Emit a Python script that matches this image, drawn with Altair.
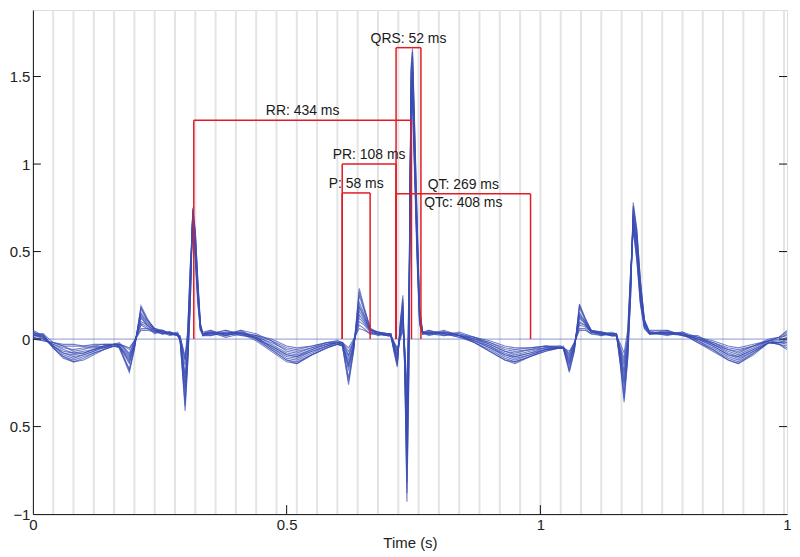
import altair as alt
import pandas as pd

# ---------------- data ----------------
# sample times (s), grouped by waveform segment
times = [
    [0.00, 0.02, 0.04, 0.06, 0.08, 0.10, 0.12, 0.14, 0.16],
    [0.17, 0.18, 0.19, 0.20, 0.213, 0.225, 0.24, 0.255, 0.27, 0.285],
    [0.29, 0.295, 0.30, 0.305, 0.31, 0.315, 0.32, 0.325, 0.33, 0.335],
    [0.35, 0.38, 0.41, 0.44, 0.47, 0.50, 0.52, 0.55, 0.58, 0.60],
    [0.61, 0.622, 0.632, 0.643, 0.653, 0.665, 0.68, 0.70],
    [0.705, 0.712, 0.718, 0.724, 0.729, 0.733, 0.737, 0.741, 0.745, 0.748, 0.752, 0.757, 0.762, 0.768],
    [0.78, 0.81, 0.84, 0.87, 0.90, 0.93, 0.95, 0.98, 1.01, 1.04],
    [1.045, 1.057, 1.067, 1.077, 1.088, 1.10, 1.12, 1.14],
    [1.15, 1.158, 1.165, 1.172, 1.178, 1.183, 1.19, 1.197, 1.205, 1.215],
    [1.25, 1.28, 1.31, 1.34, 1.37, 1.39, 1.42, 1.45, 1.47, 1.486],
]

beat_1 = [
    [0.00, -0.01, -0.02, -0.03, -0.03, -0.04, -0.03, -0.03, -0.03],
    [-0.03, -0.04, -0.05, -0.01, 0.05, 0.05, 0.04, 0.03, 0.03, 0.02],
    [0.01, -0.04, -0.10, 0.05, 0.40, 0.66, 0.45, 0.20, 0.05, 0.02],
    [0.03, 0.02, 0.04, 0.02, 0.00, -0.04, -0.05, -0.04, -0.02, -0.02],
    [-0.02, -0.05, 0.00, 0.06, 0.05, 0.03, 0.03, 0.02],
    [0.02, -0.02, -0.05, 0.00, 0.05, -0.05, -0.30, 0.30, 1.25, 1.35, 0.95, 0.45, 0.08, 0.03],
    [0.03, 0.02, 0.03, 0.01, -0.01, -0.04, -0.05, -0.05, -0.04, -0.04],
    [-0.05, -0.07, -0.02, 0.05, 0.05, 0.03, 0.02, 0.03],
    [0.02, -0.03, -0.08, 0.05, 0.40, 0.62, 0.45, 0.20, 0.06, 0.03],
    [0.03, 0.02, 0.01, -0.01, -0.04, -0.05, -0.03, -0.01, 0.01, 0.05],
]
beat_2 = [
    [0.01, 0.00, -0.03, -0.05, -0.06, -0.05, -0.05, -0.04, -0.03],
    [-0.03, -0.05, -0.08, -0.02, 0.08, 0.06, 0.04, 0.04, 0.02, 0.03],
    [0.00, -0.08, -0.15, 0.00, 0.35, 0.68, 0.50, 0.25, 0.06, 0.03],
    [0.04, 0.03, 0.02, 0.01, -0.02, -0.06, -0.07, -0.05, -0.03, -0.02],
    [-0.02, -0.09, -0.02, 0.10, 0.08, 0.04, 0.02, 0.03],
    [0.03, -0.03, -0.07, 0.02, 0.08, -0.10, -0.42, 0.20, 1.30, 1.42, 1.00, 0.50, 0.10, 0.03],
    [0.04, 0.03, 0.02, 0.00, -0.02, -0.06, -0.07, -0.06, -0.05, -0.05],
    [-0.05, -0.09, -0.03, 0.08, 0.07, 0.04, 0.03, 0.02],
    [0.02, -0.06, -0.13, 0.00, 0.38, 0.65, 0.48, 0.22, 0.07, 0.03],
    [0.04, 0.03, 0.00, -0.02, -0.06, -0.07, -0.04, -0.01, 0.00, 0.03],
]
beat_3 = [
    [0.03, 0.01, -0.03, -0.06, -0.08, -0.07, -0.06, -0.05, -0.03],
    [-0.03, -0.06, -0.10, -0.03, 0.10, 0.08, 0.05, 0.03, 0.04, 0.02],
    [0.01, -0.10, -0.20, -0.05, 0.30, 0.70, 0.52, 0.25, 0.07, 0.02],
    [0.02, 0.04, 0.03, 0.02, -0.03, -0.08, -0.09, -0.06, -0.03, -0.02],
    [-0.03, -0.12, -0.03, 0.14, 0.10, 0.04, 0.03, 0.02],
    [0.02, -0.04, -0.09, 0.04, 0.12, -0.12, -0.52, 0.10, 1.35, 1.48, 1.05, 0.55, 0.12, 0.04],
    [0.02, 0.04, 0.03, 0.00, -0.03, -0.07, -0.09, -0.07, -0.05, -0.04],
    [-0.05, -0.11, -0.03, 0.10, 0.08, 0.04, 0.03, 0.03],
    [0.03, -0.08, -0.18, -0.03, 0.35, 0.68, 0.52, 0.25, 0.08, 0.04],
    [0.02, 0.04, 0.01, -0.03, -0.07, -0.09, -0.05, -0.01, -0.01, 0.01],
]
beat_4 = [
    [0.02, 0.02, -0.04, -0.08, -0.09, -0.08, -0.06, -0.04, -0.03],
    [-0.04, -0.08, -0.12, -0.03, 0.13, 0.08, 0.04, 0.05, 0.03, 0.02],
    [0.00, -0.12, -0.25, -0.08, 0.28, 0.72, 0.55, 0.28, 0.06, 0.03],
    [0.05, 0.02, 0.04, 0.00, -0.04, -0.09, -0.10, -0.07, -0.04, -0.02],
    [-0.03, -0.15, -0.04, 0.18, 0.12, 0.05, 0.04, 0.03],
    [0.03, -0.05, -0.11, 0.05, 0.15, -0.15, -0.62, 0.05, 1.40, 1.53, 1.10, 0.60, 0.14, 0.03],
    [0.05, 0.03, 0.01, -0.01, -0.04, -0.09, -0.10, -0.08, -0.06, -0.05],
    [-0.05, -0.13, -0.04, 0.13, 0.09, 0.04, 0.04, 0.02],
    [0.02, -0.10, -0.23, -0.05, 0.32, 0.70, 0.55, 0.27, 0.09, 0.03],
    [0.05, 0.02, 0.00, -0.04, -0.09, -0.10, -0.06, -0.02, -0.02, -0.01],
]
beat_5 = [
    [0.04, 0.01, -0.04, -0.09, -0.11, -0.09, -0.07, -0.05, -0.04],
    [-0.04, -0.09, -0.14, -0.04, 0.15, 0.10, 0.05, 0.04, 0.03, 0.03],
    [-0.01, -0.15, -0.30, -0.10, 0.25, 0.73, 0.58, 0.30, 0.08, 0.02],
    [0.03, 0.05, 0.02, 0.01, -0.05, -0.11, -0.12, -0.08, -0.04, -0.03],
    [-0.03, -0.18, -0.05, 0.21, 0.14, 0.05, 0.03, 0.02],
    [0.02, -0.06, -0.13, 0.07, 0.18, -0.18, -0.72, 0.00, 1.45, 1.58, 1.15, 0.62, 0.15, 0.04],
    [0.03, 0.05, 0.02, -0.01, -0.05, -0.10, -0.12, -0.09, -0.06, -0.05],
    [-0.05, -0.15, -0.05, 0.15, 0.10, 0.05, 0.03, 0.03],
    [0.03, -0.12, -0.27, -0.08, 0.30, 0.73, 0.58, 0.30, 0.10, 0.04],
    [0.03, 0.04, -0.01, -0.05, -0.10, -0.12, -0.07, -0.02, -0.02, -0.03],
]
beat_6 = [
    [0.03, 0.03, -0.05, -0.10, -0.12, -0.10, -0.08, -0.06, -0.04],
    [-0.04, -0.11, -0.17, -0.05, 0.17, 0.11, 0.06, 0.04, 0.04, 0.02],
    [0.00, -0.18, -0.35, -0.12, 0.20, 0.74, 0.60, 0.32, 0.08, 0.03],
    [0.04, 0.03, 0.05, 0.00, -0.06, -0.12, -0.13, -0.09, -0.05, -0.03],
    [-0.04, -0.22, -0.06, 0.25, 0.16, 0.06, 0.04, 0.03],
    [0.03, -0.07, -0.14, 0.08, 0.21, -0.20, -0.82, -0.10, 1.50, 1.62, 1.20, 0.65, 0.16, 0.03],
    [0.04, 0.03, 0.01, -0.02, -0.06, -0.11, -0.13, -0.10, -0.06, -0.05],
    [-0.05, -0.17, -0.06, 0.18, 0.11, 0.05, 0.04, 0.02],
    [0.02, -0.14, -0.31, -0.10, 0.28, 0.75, 0.60, 0.32, 0.10, 0.03],
    [0.04, 0.02, -0.01, -0.06, -0.11, -0.13, -0.08, -0.02, -0.03, -0.04],
]
beat_7 = [
    [0.05, 0.02, -0.05, -0.11, -0.13, -0.12, -0.09, -0.06, -0.04],
    [-0.05, -0.12, -0.19, -0.06, 0.19, 0.12, 0.05, 0.05, 0.03, 0.02],
    [-0.01, -0.20, -0.41, -0.15, 0.18, 0.75, 0.62, 0.34, 0.09, 0.03],
    [0.02, 0.04, 0.03, -0.01, -0.07, -0.13, -0.14, -0.09, -0.05, -0.03],
    [-0.04, -0.26, -0.07, 0.29, 0.18, 0.06, 0.03, 0.02],
    [0.02, -0.08, -0.16, 0.10, 0.25, -0.22, -0.93, -0.20, 1.55, 1.66, 1.25, 0.70, 0.18, 0.04],
    [0.03, 0.04, 0.02, -0.02, -0.07, -0.12, -0.14, -0.10, -0.07, -0.05],
    [-0.05, -0.19, -0.07, 0.20, 0.12, 0.05, 0.03, 0.03],
    [0.03, -0.16, -0.36, -0.12, 0.25, 0.78, 0.63, 0.34, 0.11, 0.04],
    [0.03, 0.03, -0.02, -0.07, -0.12, -0.14, -0.09, -0.02, -0.03, -0.06],
]
beat_8 = [
    [0.02, 0.03, -0.02, -0.04, -0.07, -0.06, -0.04, -0.05, -0.03],
    [-0.02, -0.05, -0.09, -0.01, 0.09, 0.07, 0.03, 0.05, 0.03, 0.04],
    [0.01, -0.06, -0.12, 0.02, 0.38, 0.69, 0.48, 0.22, 0.05, 0.04],
    [0.05, 0.02, 0.05, 0.03, -0.01, -0.07, -0.08, -0.05, -0.02, -0.01],
    [-0.02, -0.10, -0.01, 0.12, 0.09, 0.05, 0.04, 0.02],
    [0.03, -0.03, -0.08, 0.03, 0.10, -0.08, -0.48, 0.15, 1.33, 1.45, 1.02, 0.52, 0.11, 0.04],
    [0.05, 0.02, 0.04, 0.01, -0.03, -0.07, -0.08, -0.06, -0.04, -0.05],
    [-0.04, -0.10, -0.02, 0.09, 0.08, 0.05, 0.02, 0.04],
    [0.03, -0.07, -0.15, -0.02, 0.36, 0.66, 0.50, 0.24, 0.07, 0.05],
    [0.05, 0.02, 0.02, -0.03, -0.06, -0.08, -0.04, 0.00, 0.01, 0.02],
]
beat_9 = [
    [0.03, 0.00, -0.04, -0.08, -0.10, -0.09, -0.07, -0.04, -0.04],
    [-0.04, -0.08, -0.13, -0.04, 0.14, 0.09, 0.06, 0.04, 0.04, 0.03],
    [0.00, -0.13, -0.28, -0.09, 0.26, 0.72, 0.56, 0.29, 0.07, 0.02],
    [0.04, 0.03, 0.03, 0.01, -0.05, -0.10, -0.11, -0.07, -0.04, -0.02],
    [-0.03, -0.16, -0.04, 0.19, 0.13, 0.05, 0.04, 0.03],
    [0.02, -0.05, -0.12, 0.06, 0.16, -0.16, -0.66, 0.02, 1.42, 1.55, 1.12, 0.60, 0.14, 0.03],
    [0.04, 0.04, 0.02, -0.01, -0.05, -0.09, -0.11, -0.09, -0.06, -0.05],
    [-0.05, -0.14, -0.04, 0.14, 0.10, 0.04, 0.04, 0.03],
    [0.02, -0.11, -0.25, -0.06, 0.31, 0.71, 0.57, 0.28, 0.09, 0.03],
    [0.04, 0.03, 0.00, -0.04, -0.09, -0.11, -0.07, -0.02, -0.02, -0.02],
]
beat_10 = [
    [0.04, 0.02, -0.05, -0.10, -0.13, -0.11, -0.08, -0.06, -0.04],
    [-0.05, -0.11, -0.18, -0.05, 0.18, 0.11, 0.06, 0.05, 0.03, 0.03],
    [0.00, -0.19, -0.38, -0.13, 0.19, 0.74, 0.61, 0.33, 0.09, 0.03],
    [0.03, 0.05, 0.03, 0.00, -0.06, -0.12, -0.14, -0.09, -0.05, -0.03],
    [-0.04, -0.24, -0.06, 0.27, 0.17, 0.06, 0.03, 0.03],
    [0.03, -0.07, -0.15, 0.09, 0.23, -0.21, -0.88, -0.15, 1.52, 1.64, 1.22, 0.68, 0.17, 0.04],
    [0.04, 0.03, 0.02, -0.02, -0.07, -0.12, -0.13, -0.10, -0.07, -0.05],
    [-0.05, -0.18, -0.06, 0.19, 0.12, 0.05, 0.04, 0.03],
    [0.03, -0.15, -0.34, -0.11, 0.26, 0.76, 0.62, 0.33, 0.11, 0.04],
    [0.04, 0.03, -0.02, -0.06, -0.12, -0.14, -0.08, -0.02, -0.03, -0.05],
]
beat_11 = [
    [0.01, -0.01, -0.02, -0.04, -0.04, -0.04, -0.04, -0.03, -0.03],
    [-0.03, -0.04, -0.06, -0.01, 0.06, 0.06, 0.05, 0.03, 0.04, 0.02],
    [0.02, -0.05, -0.12, 0.03, 0.42, 0.67, 0.47, 0.22, 0.06, 0.03],
    [0.04, 0.01, 0.03, 0.02, -0.01, -0.05, -0.06, -0.04, -0.02, -0.01],
    [-0.02, -0.07, -0.01, 0.08, 0.06, 0.03, 0.03, 0.03],
    [0.02, -0.02, -0.06, 0.01, 0.06, -0.07, -0.36, 0.25, 1.28, 1.38, 0.98, 0.48, 0.09, 0.03],
    [0.03, 0.03, 0.02, 0.01, -0.02, -0.05, -0.06, -0.05, -0.04, -0.05],
    [-0.05, -0.08, -0.02, 0.06, 0.06, 0.03, 0.03, 0.02],
    [0.02, -0.05, -0.11, 0.02, 0.39, 0.63, 0.46, 0.21, 0.06, 0.03],
    [0.03, 0.03, 0.01, -0.02, -0.05, -0.06, -0.04, -0.01, 0.01, 0.04],
]
beat_12 = [
    [0.02, 0.01, -0.04, -0.07, -0.08, -0.08, -0.06, -0.04, -0.03],
    [-0.04, -0.07, -0.11, -0.03, 0.12, 0.08, 0.05, 0.04, 0.03, 0.03],
    [0.01, -0.11, -0.22, -0.06, 0.29, 0.71, 0.54, 0.27, 0.07, 0.03],
    [0.03, 0.03, 0.04, 0.01, -0.04, -0.09, -0.10, -0.06, -0.03, -0.02],
    [-0.03, -0.14, -0.03, 0.16, 0.11, 0.05, 0.03, 0.02],
    [0.03, -0.05, -0.10, 0.04, 0.13, -0.13, -0.57, 0.08, 1.38, 1.51, 1.08, 0.58, 0.13, 0.04],
    [0.03, 0.04, 0.02, 0.00, -0.04, -0.08, -0.10, -0.08, -0.05, -0.05],
    [-0.05, -0.12, -0.04, 0.12, 0.09, 0.04, 0.03, 0.03],
    [0.02, -0.09, -0.20, -0.04, 0.33, 0.69, 0.53, 0.26, 0.08, 0.04],
    [0.03, 0.03, 0.00, -0.03, -0.08, -0.10, -0.06, -0.01, -0.02, 0.00],
]
beats = [beat_1, beat_2, beat_3, beat_4, beat_5, beat_6, beat_7,
         beat_8, beat_9, beat_10, beat_11, beat_12]

# interval annotations: label, start (s), end (s), bracket height
ann_labels = ["RR: 434 ms", "PR: 108 ms", "P: 58 ms", "QRS: 52 ms", "QT: 269 ms"]
ann_start = [0.317, 0.6095, 0.6095, 0.7156, 0.7156]
ann_end = [0.746, 0.7156, 0.6645, 0.7646, 0.9806]
ann_height = [1.25, 1.0, 0.835, 1.665, 0.83]
qtc_label = "QTc: 408 ms"

# small ECG-paper grid (every 40 ms)
grid_times = [0.04, 0.08, 0.12, 0.16, 0.20, 0.24, 0.28, 0.32, 0.36, 0.40,
              0.44, 0.48, 0.52, 0.56, 0.60, 0.64, 0.68, 0.72, 0.76, 0.80,
              0.84, 0.88, 0.92, 0.96, 1.00, 1.04, 1.08, 1.12, 1.16, 1.20,
              1.24, 1.28, 1.32, 1.36, 1.40, 1.44, 1.48]

x_tick_values = [0, 0.5, 1, 1.486]
x_tick_labels = ["0", "0.5", "1", "1"]
y_tick_values = [-1, -0.5, 0, 0.5, 1, 1.5]
y_tick_labels = ["\u22121", "0.5", "0", "0.5", "1", "1.5"]

# ---------------- build tables ----------------
rows = []
for b, beat in enumerate(beats):
    for seg_t, seg_v in zip(times, beat):
        for t, v in zip(seg_t, seg_v):
            rows.append({"t": t, "v": v, "beat": b})
trace_df = pd.DataFrame(rows)

seg_rows = []
text_rows = []
for lab, s, e, h in zip(ann_labels, ann_start, ann_end, ann_height):
    seg_rows.append({"t": s, "t2": s, "v": 0, "v2": h})
    seg_rows.append({"t": e, "t2": e, "v": 0, "v2": h})
    seg_rows.append({"t": s, "t2": e, "v": h, "v2": h})
    text_rows.append({"t": (s + e) / 2, "v": h, "label": lab})
seg_df = pd.DataFrame(seg_rows)
text_df = pd.DataFrame(text_rows)
qt_i = ann_labels.index("QT: 269 ms")
qtc_df = pd.DataFrame([{"t": (ann_start[qt_i] + ann_end[qt_i]) / 2,
                        "v": ann_height[qt_i], "label": qtc_label}])


def label_expr(values, labels):
    expr = "datum.label"
    for val, lab in reversed(list(zip(values, labels))):
        expr = f"abs(datum.value - ({val})) < 1e-6 ? '{lab}' : ({expr})"
    return expr


AX_FONT = "Liberation Sans Narrow, Arial Narrow, Liberation Sans"
TXT_FONT = "Liberation Sans, Arial"
W, H = 757, 506

x_scale = alt.Scale(domain=[0, 1.486], nice=False, zero=False)
y_scale = alt.Scale(domain=[-1, 1.88], nice=False, zero=False)

x_axis = alt.Axis(values=x_tick_values, labelExpr=label_expr(x_tick_values, x_tick_labels),
                  grid=False, ticks=False, domainColor="#111", domainWidth=1,
                  labelFont=AX_FONT, labelFontSize=15, labelColor="#222",
                  labelPadding=3, labelFlush=False, labelOverlap=False,
                  title="Time (s)", titleFont=AX_FONT, titleFontSize=15,
                  titleFontWeight="normal", titleColor="#222", titlePadding=4)
y_axis = alt.Axis(values=y_tick_values, labelExpr=label_expr(y_tick_values, y_tick_labels),
                  grid=False, ticks=False, domainColor="#111", domainWidth=1,
                  labelFont=AX_FONT, labelFontSize=15, labelColor="#222",
                  labelPadding=3, labelFlush=False, labelOverlap=False,
                  title=None, minExtent=24, maxExtent=24)


def X(field="t"):
    return alt.X(f"{field}:Q", scale=x_scale, axis=x_axis, title="Time (s)")


def Y(field="v"):
    return alt.Y(f"{field}:Q", scale=y_scale, axis=y_axis, title=None)


grid = alt.Chart(pd.DataFrame({"t": grid_times})).mark_rule(
    color="#e4e4e4", strokeWidth=2).encode(x=X())

zero_line = alt.Chart(pd.DataFrame({"v": [0]})).mark_rule(
    color="#6f7fcc", strokeWidth=0.8).encode(y=Y())

traces = alt.Chart(trace_df).mark_line(
    color="#3a4db3", strokeWidth=1.1, opacity=0.7, clip=True).encode(
    x=X(), y=Y(), detail="beat:N", order="t:Q")

red = alt.Chart(seg_df).mark_rule(color="#e31b23", strokeWidth=1.5).encode(
    x=X(), x2="t2:Q", y=Y(), y2="v2:Q")

labels = alt.Chart(text_df).mark_text(
    font=TXT_FONT, fontSize=14, color="#1a1a1a", baseline="bottom", dy=-2).encode(
    x=X(), y=Y(), text="label:N")

qtc = alt.Chart(qtc_df).mark_text(
    font=TXT_FONT, fontSize=14, color="#1a1a1a", baseline="top", dy=2).encode(
    x=X(), y=Y(), text="label:N")

tick_df = pd.DataFrame({"v": y_tick_values[1:]})
left_ticks = alt.Chart(tick_df).mark_rule(color="#111").encode(
    y=Y(), x=alt.value(0), x2=alt.value(8))
right_ticks = alt.Chart(tick_df).mark_rule(color="#111").encode(
    y=Y(), x=alt.value(W - 8), x2=alt.value(W))
bottom_ticks = alt.Chart(pd.DataFrame({"t": x_tick_values[1:3]})).mark_rule(color="#111").encode(
    x=X(), y=alt.value(H), y2=alt.value(H - 9))

chart = alt.layer(grid, zero_line, traces, red, labels, qtc,
                  left_ticks, right_ticks, bottom_ticks).properties(
    width=W, height=H,
    padding={"left": 1, "top": 0, "right": 0, "bottom": 0},
).configure_view(stroke=None).configure(background="white")

chart.save("out.html", embed_options={"renderer": "svg", "actions": False})
